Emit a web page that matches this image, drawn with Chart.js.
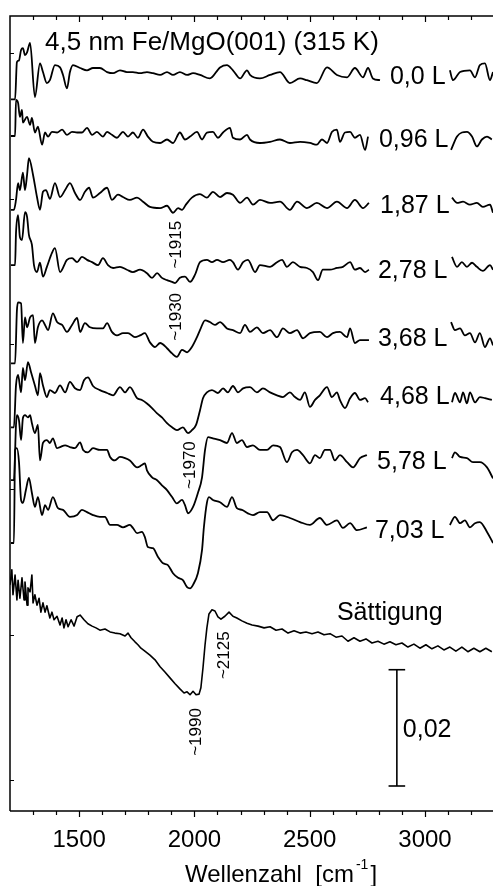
<!DOCTYPE html>
<html>
<head>
<meta charset="utf-8">
<script src="https://cdn.jsdelivr.net/npm/chart.js@4.4.1/dist/chart.umd.min.js"></script>
<style>
html,body{margin:0;padding:0;background:#fff;}
#wrap{width:493px;height:886px;}
</style>
</head>
<body>
<div id="wrap"><canvas id="c" width="493" height="886"></canvas></div>
<script>
// Wavenumber axis (cm^-1)
const xTickValues = [1500, 2000, 2500, 3000];
const xTickLabels = ['1500', '2000', '2500', '3000'];
// Exposure labels for the stacked spectra
const exposures = ['0,0 L', '0,96 L', '1,87 L', '2,78 L', '3,68 L', '4,68 L', '5,78 L', '7,03 L', 'Sättigung'];
// Vertical offsets of the stacked spectra (units of 1e-4 ΔR/R)
const offsets = [1216, 1105, 993, 881, 762, 657, 559, 444, 224];

// Spectra: [wavenumber, ΔR/R in 1e-4] (null = break in trace for the label)
const s000 = [[1204,-45],[1222,-45],[1230,19],[1239,22],[1248,40],[1256,43],[1265,31],[1274,36],[1287,52],[1308,-41],[1330,17],[1343,2],[1360,-17],[1373,-12],[1395,14],[1417,10],[1430,-3],[1447,-26],[1460,2],[1473,14],[1504,9],[1534,5],[1560,9],[1590,9],[1621,2],[1647,0],[1677,5],[1707,2],[1733,2],[1764,0],[1794,2],[1820,0],[1851,-3],[1881,2],[1907,-3],[1937,2],[1968,-3],[1994,0],[2024,-3],[2067,-9],[2111,10],[2141,14],[2167,5],[2198,-9],[2228,5],[2241,-3],[2284,-9],[2328,-3],[2371,2],[2414,-17],[2458,-9],[2488,-12],[2531,-17],[2575,10],[2618,-3],[2662,-7],[2696,9],[2731,-7],[2753,9],[2774,-9],[2805,-12],[2950,null],[3108,5],[3121,-12],[3152,2],[3195,5],[3217,-7],[3238,14],[3260,17],[3282,-12],[3295,2]];
const s096 = [[1204,3],[1222,3],[1226,65],[1235,60],[1243,36],[1252,48],[1256,26],[1274,36],[1287,22],[1295,34],[1308,9],[1321,19],[1339,-12],[1352,9],[1365,2],[1382,10],[1404,9],[1426,14],[1447,5],[1469,10],[1491,9],[1512,9],[1534,17],[1556,5],[1577,10],[1603,2],[1621,10],[1642,5],[1664,0],[1690,10],[1712,2],[1733,9],[1755,0],[1777,14],[1798,2],[1820,-7],[1851,-9],[1881,-3],[1907,-9],[1937,9],[1959,-3],[1981,2],[2011,10],[2033,-3],[2054,9],[2080,10],[2102,0],[2124,9],[2154,17],[2167,0],[2198,-3],[2228,5],[2241,-3],[2284,-9],[2328,-7],[2371,-3],[2414,-9],[2458,-7],[2501,-9],[2531,-12],[2553,-3],[2575,-9],[2596,10],[2618,14],[2631,-7],[2653,9],[2675,10],[2696,0],[2718,5],[2740,-21],[2753,2],[2950,null],[3113,-21],[3139,2],[3160,9],[3182,10],[3204,2],[3225,-15],[3247,-3],[3269,2],[3290,-3]];
const s187 = [[1204,-12],[1217,-12],[1226,5],[1235,34],[1243,22],[1256,52],[1265,22],[1274,48],[1282,77],[1300,48],[1317,10],[1330,-12],[1343,19],[1356,22],[1373,7],[1395,34],[1417,10],[1439,22],[1460,34],[1482,17],[1504,5],[1525,19],[1543,26],[1560,9],[1590,17],[1621,26],[1642,5],[1668,14],[1690,10],[1720,5],[1751,9],[1777,2],[1807,-7],[1851,-9],[1881,-5],[1907,-17],[1929,-9],[1946,-12],[1963,-3],[1989,9],[2024,15],[2054,9],[2080,19],[2111,10],[2141,17],[2167,14],[2198,0],[2228,9],[2254,-3],[2284,5],[2328,0],[2371,2],[2414,-12],[2445,2],[2488,-9],[2531,0],[2575,-9],[2618,2],[2662,-9],[2696,5],[2731,-9],[2757,0],[2950,null],[3117,9],[3139,0],[3165,2],[3195,-3],[3225,0],[3251,-7],[3282,-3],[3295,-17]];
const s278 = [[1204,5],[1222,5],[1226,60],[1235,91],[1243,53],[1252,48],[1265,96],[1274,88],[1282,57],[1295,40],[1304,5],[1317,-7],[1330,9],[1343,-15],[1360,2],[1382,26],[1395,34],[1417,-7],[1447,14],[1469,17],[1491,10],[1512,19],[1534,14],[1556,10],[1582,5],[1603,17],[1625,5],[1647,0],[1677,2],[1707,-3],[1733,-7],[1764,-3],[1794,-9],[1816,-17],[1838,-9],[1859,-17],[1881,-21],[1903,-24],[1916,-26],[1937,-17],[1959,-15],[1981,-24],[2002,-12],[2024,10],[2054,14],[2076,10],[2098,14],[2124,10],[2154,14],[2167,10],[2189,-3],[2211,10],[2232,14],[2263,-7],[2284,5],[2328,2],[2358,10],[2380,14],[2401,2],[2427,10],[2458,2],[2488,0],[2514,-7],[2536,-21],[2557,-3],[2588,-3],[2618,0],[2644,2],[2675,10],[2696,-3],[2718,0],[2740,-7],[2757,-3],[2950,null],[3117,19],[3139,2],[3160,10],[3182,2],[3204,9],[3225,2],[3251,-5],[3282,5],[3295,-3]];
const s368 = [[1204,-45],[1222,-45],[1230,46],[1235,60],[1248,58],[1256,-10],[1265,34],[1274,17],[1287,34],[1300,38],[1308,-10],[1321,17],[1339,29],[1352,21],[1365,12],[1386,41],[1404,26],[1426,21],[1447,9],[1469,21],[1491,33],[1504,9],[1525,24],[1547,17],[1577,15],[1603,15],[1621,24],[1642,9],[1664,3],[1690,7],[1712,7],[1742,0],[1764,3],[1785,7],[1807,-9],[1829,-17],[1851,-10],[1881,-19],[1903,-28],[1924,-34],[1946,-22],[1968,-26],[1989,-17],[2011,0],[2024,12],[2046,29],[2067,26],[2089,21],[2111,26],[2141,15],[2167,12],[2198,7],[2219,21],[2241,9],[2271,17],[2297,7],[2328,12],[2358,0],[2384,15],[2414,7],[2445,12],[2471,-2],[2501,7],[2544,9],[2575,0],[2601,7],[2631,9],[2662,0],[2675,15],[2696,-10],[2718,-5],[2757,-5],[2950,null],[3113,26],[3130,12],[3152,15],[3173,3],[3195,7],[3217,-9],[3238,7],[3260,-17],[3282,-2],[3295,-14]];
const s468 = [[1204,-50],[1217,-50],[1226,22],[1235,40],[1248,10],[1256,52],[1265,31],[1278,62],[1291,45],[1308,22],[1321,5],[1330,43],[1343,22],[1360,2],[1373,14],[1395,9],[1417,22],[1439,10],[1460,28],[1482,17],[1504,14],[1521,31],[1538,36],[1560,21],[1590,14],[1621,9],[1647,5],[1677,19],[1699,10],[1720,19],[1751,0],[1772,-3],[1794,-9],[1816,-17],[1838,-26],[1859,-33],[1881,-43],[1903,-50],[1924,-55],[1950,-50],[1972,-60],[1989,-55],[2007,-46],[2024,-21],[2037,0],[2054,10],[2076,14],[2102,9],[2124,17],[2145,10],[2167,21],[2189,10],[2211,17],[2241,19],[2271,10],[2297,17],[2328,10],[2358,5],[2384,2],[2414,10],[2436,2],[2458,-3],[2479,10],[2501,-15],[2523,-3],[2544,5],[2575,19],[2596,2],[2618,10],[2631,-3],[2653,-17],[2675,0],[2696,9],[2718,-3],[2740,0],[2753,-7],[2950,null],[3117,-7],[3130,9],[3152,-7],[3165,10],[3182,-9],[3195,10],[3217,-7],[3238,2],[3260,0],[3290,-3]];
const s578 = [[1204,-43],[1217,-43],[1226,52],[1230,69],[1239,60],[1248,26],[1256,64],[1265,69],[1278,65],[1287,69],[1295,55],[1308,38],[1321,52],[1330,-9],[1343,21],[1360,26],[1373,21],[1386,29],[1404,12],[1417,14],[1439,17],[1460,14],[1482,12],[1504,22],[1517,9],[1538,5],[1560,12],[1590,9],[1621,9],[1634,-3],[1655,-9],[1677,-3],[1699,-5],[1720,-9],[1751,-21],[1772,-17],[1785,-14],[1794,-26],[1816,-38],[1838,-43],[1859,-52],[1881,-60],[1903,-72],[1924,-83],[1946,-77],[1959,-86],[1972,-100],[1994,-89],[2015,-65],[2033,-38],[2046,9],[2059,31],[2080,29],[2111,26],[2141,21],[2163,38],[2184,21],[2206,26],[2228,14],[2254,17],[2284,9],[2315,9],[2341,17],[2371,14],[2401,-12],[2423,5],[2445,9],[2471,0],[2501,-14],[2523,0],[2544,-5],[2566,9],[2588,9],[2609,-9],[2631,0],[2662,-12],[2688,-21],[2718,-5],[2748,0],[2950,null],[3117,-5],[3130,5],[3152,-3],[3182,-5],[3208,-12],[3238,-12],[3269,-21],[3295,-40]];
const s703 = [[1204,-36],[1217,-36],[1222,124],[1230,127],[1239,103],[1248,38],[1256,33],[1269,55],[1282,76],[1295,50],[1308,26],[1321,43],[1339,12],[1352,29],[1365,21],[1386,43],[1408,24],[1430,21],[1460,9],[1491,12],[1512,21],[1534,17],[1560,12],[1590,9],[1612,9],[1634,-5],[1664,-5],[1690,-9],[1720,-5],[1733,-10],[1751,-19],[1772,-17],[1785,-26],[1798,-43],[1820,-45],[1842,-60],[1864,-71],[1885,-74],[1907,-88],[1929,-96],[1950,-100],[1968,-112],[1981,-114],[1994,-108],[2015,-88],[2033,-48],[2041,-9],[2054,33],[2063,43],[2080,38],[2111,34],[2141,26],[2163,43],[2184,24],[2206,21],[2232,15],[2254,12],[2284,17],[2315,17],[2341,3],[2371,12],[2414,7],[2458,0],[2501,-5],[2544,7],[2575,-5],[2618,3],[2644,-10],[2675,-2],[2705,-14],[2748,-9],[2950,null],[3108,-5],[3130,9],[3152,-2],[3173,3],[3195,-9],[3217,-2],[3238,0],[3269,-17],[3295,-36]];
const sSat = [[1200,112],[1208,138],[1213,95],[1222,129],[1230,86],[1235,120],[1243,89],[1252,124],[1261,86],[1265,117],[1274,77],[1278,107],[1287,100],[1295,129],[1300,81],[1308,95],[1317,77],[1326,89],[1334,65],[1343,81],[1352,65],[1360,76],[1373,55],[1382,65],[1391,52],[1404,58],[1417,43],[1426,55],[1434,38],[1443,52],[1452,40],[1465,52],[1478,41],[1491,57],[1504,60],[1521,52],[1538,45],[1556,41],[1573,38],[1590,34],[1612,36],[1634,31],[1655,29],[1677,28],[1699,24],[1712,29],[1725,21],[1742,14],[1755,9],[1768,3],[1785,-2],[1807,-9],[1829,-17],[1851,-29],[1872,-38],[1894,-48],[1916,-58],[1937,-67],[1955,-74],[1968,-72],[1981,-77],[1994,-71],[2007,-77],[2020,-76],[2028,-65],[2037,-31],[2046,9],[2054,38],[2063,62],[2076,69],[2089,67],[2102,57],[2115,53],[2132,58],[2150,65],[2167,58],[2184,55],[2206,50],[2228,46],[2250,43],[2276,41],[2302,38],[2328,40],[2354,34],[2380,36],[2406,29],[2432,33],[2458,29],[2484,31],[2510,28],[2536,31],[2562,26],[2588,28],[2614,22],[2640,24],[2666,15],[2692,21],[2718,15],[2744,19],[2770,12],[2796,15],[2822,10],[2848,14],[2874,9],[2900,12],[2926,5],[2952,10],[2978,3],[3004,9],[3030,2],[3056,7],[3082,0],[3108,5],[3134,-2],[3160,5],[3186,-3],[3212,3],[3238,-3],[3264,3],[3290,-3]];
const spectra = [s000, s096, s187, s278, s368, s468, s578, s703, sSat];

// Scale bar: 0,02 (= 200 units of 1e-4)
const scaleBarWn = 2878;
const scaleBarBottom = -10;
const scaleBarSize = 200;

const datasets = spectra.map((s, i) => ({
  label: exposures[i],
  data: s.map(([w, v]) => ({x: w, y: v === null ? null : v + offsets[i]})),
  borderColor: '#000', borderWidth: i === 8 ? 1.6 : 1.8, pointRadius: 0, spanGaps: false,
  cubicInterpolationMode: i === 8 ? 'default' : 'monotone', tension: i === 8 ? 0 : 0.4,
  borderJoinStyle: 'round'
}));
datasets.push({label: 'bar', data: [{x: scaleBarWn, y: scaleBarBottom}, {x: scaleBarWn, y: scaleBarBottom + scaleBarSize}], borderColor: '#000', borderWidth: 1.6, pointRadius: 0});
datasets.push({label: 'capTop', data: [{x: scaleBarWn - 36, y: scaleBarBottom + scaleBarSize}, {x: scaleBarWn + 36, y: scaleBarBottom + scaleBarSize}], borderColor: '#000', borderWidth: 1.6, pointRadius: 0});
datasets.push({label: 'capBot', data: [{x: scaleBarWn - 36, y: scaleBarBottom}, {x: scaleBarWn + 36, y: scaleBarBottom}], borderColor: '#000', borderWidth: 1.6, pointRadius: 0});

// Text annotations in data coordinates
const curveLabelPos = [[2848,1210],[2800,1101],[2805,988],[2796,876],[2796,759],[2805,659],[2792,547],[2783,429],[2618,288]];
const peakLabels = [['~1915',1920,921],['~1930',1920,797],['~1970',1981,542],['~1990',2007,83],['~2125',2128,215]];

const FONT = '"Liberation Sans", Arial, Helvetica, sans-serif';

const deco = {
  id: 'deco',
  afterDraw(chart) {
    const {ctx, chartArea: a, scales: {x, y}} = chart;
    ctx.save();
    ctx.strokeStyle = '#000';
    ctx.fillStyle = '#000';
    ctx.lineWidth = 1.5;
    ctx.beginPath();
    ctx.moveTo(a.left, a.bottom); ctx.lineTo(a.left, a.top); ctx.lineTo(chart.width, a.top);
    ctx.moveTo(a.left, a.bottom); ctx.lineTo(chart.width, a.bottom);
    ctx.stroke();
    ctx.lineWidth = 1.2;
    ctx.beginPath();
    for (let w = 1300; w <= 3200; w += 100) {
      const px = Math.round(x.getPixelForValue(w)) + 0.5;
      const major = w % 500 === 0;
      ctx.moveTo(px, a.bottom); ctx.lineTo(px, a.bottom + (major ? 6 : 4));
      ctx.moveTo(px, a.top); ctx.lineTo(px, a.top + (major ? 6 : 4));
    }
    for (let v = 0; v <= 1250; v += 250) {
      const py = Math.round(y.getPixelForValue(v)) + 0.5;
      ctx.moveTo(a.left, py); ctx.lineTo(a.left + 4, py);
    }
    ctx.stroke();
    // tick labels
    ctx.font = '24px ' + FONT;
    ctx.textAlign = 'center'; ctx.textBaseline = 'alphabetic';
    xTickValues.forEach((w, i) => ctx.fillText(xTickLabels[i], x.getPixelForValue(w), 847));
    // axis title
    const t1 = 'Wellenzahl  [cm', sup = '-1', t2 = ']';
    ctx.font = '24px ' + FONT;
    const w1 = ctx.measureText(t1).width, w3 = ctx.measureText(t2).width;
    ctx.font = '14px ' + FONT;
    const w2 = ctx.measureText(sup).width;
    let sx = 185;
    ctx.textAlign = 'left';
    ctx.font = '24px ' + FONT; ctx.fillText(t1, sx, 882);
    ctx.font = '14px ' + FONT; ctx.fillText(sup, sx + w1 + 2, 869);
    ctx.font = '24px ' + FONT; ctx.fillText(t2, sx + w1 + w2 + 4, 882);
    // title
    ctx.font = '26px ' + FONT;
    ctx.textBaseline = 'middle';
    ctx.fillText('4,5 nm Fe/MgO(001) (315 K)', x.getPixelForValue(1352), y.getPixelForValue(1268));
    // curve labels
    ctx.font = '25px ' + FONT;
    exposures.forEach((t, i) => ctx.fillText(t, x.getPixelForValue(curveLabelPos[i][0]), y.getPixelForValue(curveLabelPos[i][1])));
    ctx.fillText('0,02', x.getPixelForValue(2904), y.getPixelForValue(86));
    // rotated peak labels
    ctx.font = '17px ' + FONT;
    ctx.textAlign = 'center';
    peakLabels.forEach(([t, w, v]) => {
      ctx.save();
      ctx.translate(x.getPixelForValue(w), y.getPixelForValue(v));
      ctx.rotate(-Math.PI / 2);
      ctx.fillText(t, 0, 0);
      ctx.restore();
    });
    ctx.restore();
  }
};

new Chart(document.getElementById('c'), {
  type: 'line',
  data: {datasets},
  options: {
    responsive: false,
    animation: false,
    events: [],
    layout: {padding: {left: 10, top: 16, right: 0, bottom: 75}},
    plugins: {legend: {display: false}, tooltip: {enabled: false}},
    scales: {
      x: {type: 'linear', min: 1200, max: 3295, display: false},
      y: {type: 'linear', min: -53, max: 1314.4, display: false}
    }
  },
  plugins: [deco]
});
</script>
</body>
</html>
